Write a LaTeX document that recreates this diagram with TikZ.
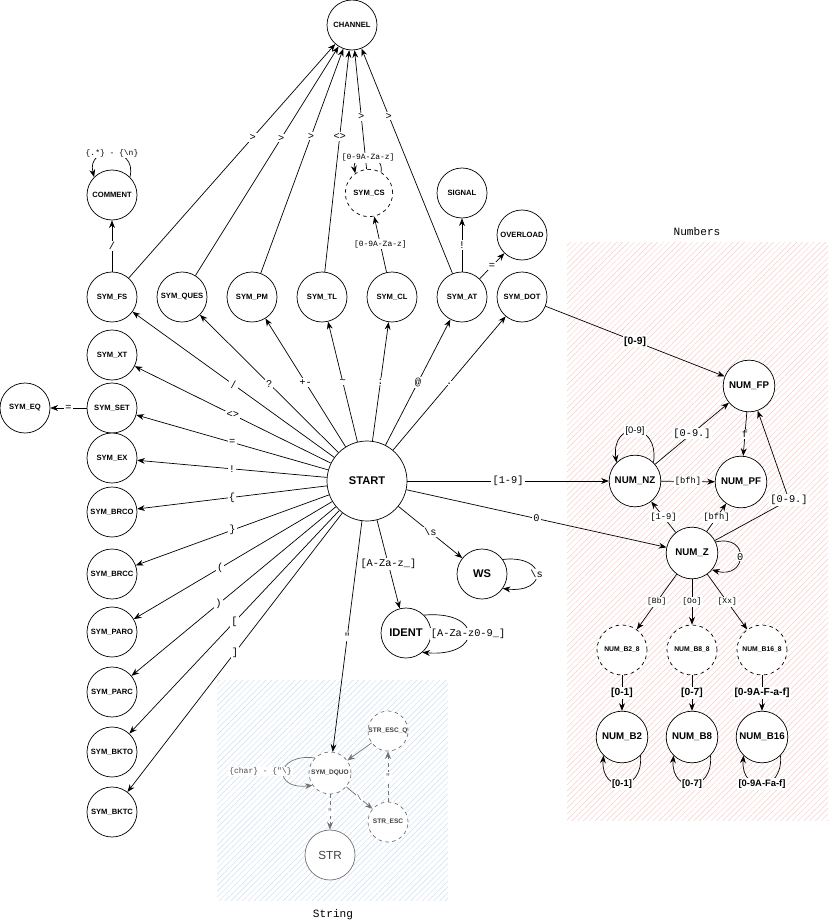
\documentclass[tikz,border=0pt]{standalone}
\usepackage{fontspec}
\setmainfont{Liberation Sans}
\newfontfamily\monofont{Liberation Mono}
\usetikzlibrary{arrows.meta,patterns.meta}
\definecolor{numhatch}{HTML}{F8CAC8}
\definecolor{strhatch}{HTML}{CCDDF2}

\begin{document}
\begin{tikzpicture}[x=.03cm,y=-.03cm,line width=.6pt,
  st/.style={draw,circle,fill=white,inner sep=0pt,minimum size=1.5cm,font=\bfseries\fontsize{6.5}{7}\selectfont},
  bigst/.style={st,font=\bfseries\fontsize{9.5}{11}\selectfont},
  numst/.style={st,minimum size=1.55cm,font=\bfseries\fontsize{8.3}{9}\selectfont},
  ghost/.style={st,dashed},
  faded/.style={draw=black!55,text=black!75},
  arr/.style={-{Stealth[length=6.5pt,width=5pt]}},
  lbl/.style={fill=white,inner sep=1pt,font=\monofont\fontsize{8.8}{9}\selectfont},
  mlbl/.style={lbl,font=\monofont\fontsize{7.5}{8}\selectfont},
  slbl/.style={lbl,font=\monofont\fontsize{6.8}{7}\selectfont},
  blbl/.style={lbl,font=\bfseries\fontsize{8.8}{9}\selectfont}]
 \useasboundingbox (0,0) rectangle (828,923);
 \fill[pattern={Lines[angle=45,distance=3.5pt,line width=.4pt]},pattern color=numhatch] (567,242) rectangle (828,820);
 \fill[pattern={Lines[angle=45,distance=3.5pt,line width=.4pt]},pattern color=strhatch] (217,680) rectangle (448,900);
 \node[font=\monofont\fontsize{9.5}{10}\selectfont] (numbers) at (697,232) {Numbers};
 \node[font=\monofont\fontsize{9.5}{10}\selectfont] (string) at (333,915) {String};

 \node[st] (channel) at (352,25) {CHANNEL};
 \node[st] (comment) at (112,195) {COMMENT};
 \node[ghost,minimum size=1.42cm] (symcs) at (369,193) {SYM\_CS};
 \node[st] (signal) at (462,193) {SIGNAL};
 \node[st] (overload) at (522,235) {OVERLOAD};
 \foreach \nm/\tx/\x in {symfs/FS/112,symques/QUES/182,sympm/PM/252,symtl/TL/322,symcl/CL/392,symat/AT/462,symdot/DOT/522}
   \node[st] (\nm) at (\x,297) {SYM\_\tx};
 \foreach \nm/\tx/\y in {symxt/XT/355,symset/SET/408,symex/EX/458,symbrco/BRCO/512,symbrcc/BRCC/574,symparo/PARO/632,symparc/PARC/692,symbkto/BKTO/752,symbktc/BKTC/812}
   \node[st] (\nm) at (112,\y) {SYM\_\tx};
 \node[st] (symeq) at (25,408) {SYM\_EQ};
 \node[bigst,minimum size=2.4cm] (start) at (367,481) {START};
 \node[bigst] (ws) at (482,574) {WS};
 \node[bigst] (ident) at (406,633) {IDENT};
 \node[numst] (numfp) at (749,386) {NUM\_FP};
 \node[numst] (numnz) at (635,481) {NUM\_NZ};
 \node[numst] (numpf) at (741,482) {NUM\_PF};
 \node[numst] (numz) at (692,553) {NUM\_Z};
 \foreach \nm/\tx/\x in {two/2/622,eight/8/692,sixteen/16/762}{
   \node[ghost,font=\bfseries\fontsize{5.8}{6}\selectfont] (pre\nm) at (\x,650) {NUM\_B\tx\_8};
   \node[numst] (num\nm) at (\x,737) {NUM\_B\tx};
 }
 \node[ghost,faded,minimum size=1.26cm,font=\bfseries\fontsize{5.6}{6}\selectfont] (symdquo) at (330,773) {SYM\_DQUO};
 \node[ghost,faded,minimum size=1.2cm,font=\bfseries\fontsize{5.6}{6}\selectfont] (strescq) at (388,731) {STR\_ESC\_Q};
 \node[ghost,faded,minimum size=1.2cm,font=\bfseries\fontsize{5.6}{6}\selectfont] (stresc) at (388,822) {STR\_ESC};
 \node[bigst,faded,font=\fontsize{10}{11}\selectfont] (str) at (330,855) {STR};

 \foreach \src/\p/\lab in {symfs/.6/>,symques/.6/>,sympm/.61/>,symtl/.61/<>,symcs/.44/>,symat/.7/>}
   \draw[arr] (\src) -- (channel) node[lbl,pos=\p] {\lab};
 \draw[arr] (symfs) -- node[lbl] {/} (comment);
 \draw[arr] (comment.45) .. controls +(8,-32) and +(-8,-32) .. (comment.135) node[slbl,pos=.5] {\{.*\} - \{\textbackslash n\}};
 \draw[arr] (symcs.60) .. controls +(4,-20) and +(-4,-20) .. (symcs.125) node[slbl,pos=.5] {[0-9A-Za-z]};
 \draw[arr] (symcl) -- node[slbl] {[0-9A-Za-z]} (symcs);
 \draw[arr] (symat) -- node[lbl] {!} (signal);
 \draw[arr] (symat) -- node[lbl] {=} (overload);
 \draw[arr] (symset) -- node[lbl] {=} (symeq);

 \draw[arr] (start) -- node[lbl] {/} (symfs);
 \foreach \dst/\lab in {symques/?,sympm/+-,symtl/\textasciitilde,symcl/:,symat/@,symdot/.}
   \draw[arr] (start) -- node[lbl] {\lab} (\dst);
 \foreach \dst/\p/\lab in {symxt/.5/<>,symset/.5/=,symex/.5/!,symbrco/.5/\{,symbrcc/.5/\},symparo/.565/(,symparc/.575/),symbkto/.5/[,symbktc/.5/]}
   \draw[arr] (start) -- (\dst) node[lbl,pos=\p] {\lab};
 \draw[arr] (start) -- node[lbl] {\textbackslash s} (ws);
 \draw[arr] (ws.35) .. controls +(45,-5) and +(45,5) .. (ws.-35) node[lbl,pos=.5] {\textbackslash s};
 \draw[arr] (start) -- node[lbl] {[A-Za-z\_]} (ident);
 \draw[arr] (ident.45) .. controls +(60,-5) and +(60,5) .. (ident.-50) node[lbl,pos=.5] {[A-Za-z0-9\_]};
 \draw[arr] (start) -- node[lbl] {[1-9]} (numnz);
 \draw[arr] (start) -- node[lbl] {0} (numz);
 \draw[arr] (start) -- node[lbl] {"} (symdquo);

 \draw[arr] (symdot) -- node[blbl] {[0-9]} (numfp);
 \draw[arr] (numnz.45) .. controls +(6,-42) and +(-6,-42) .. (numnz.135) node[pos=.5,fill=white,inner sep=1pt,font=\fontsize{8}{9}\selectfont] {[0-9]};
 \draw[arr] (numnz) -- node[lbl] {[0-9.]} (numfp);
 \draw[arr] (numnz) -- node[mlbl] {[bfh]} (numpf);
 \draw[arr] (numfp) -- node[lbl] {f} (numpf);
 \coordinate (fpbend) at (789,500);
 \draw[arr] (numz) -- (fpbend) node[lbl] {[0-9.]} -- (numfp);
 \draw[arr] (numz) -- node[mlbl] {[1-9]} (numnz);
 \draw[arr] (numz) -- node[mlbl] {[bfh]} (numpf);
 \draw[arr] (numz.25) .. controls +(35,-8) and +(35,10) .. (numz.-40) node[lbl,pos=.5] {0};
 \foreach \nm/\lab in {two/Bb,eight/Oo,sixteen/Xx}
   \draw[arr] (numz) -- node[slbl] {[\lab]} (pre\nm);
 \foreach \nm/\lab in {two/0-1,eight/0-7,sixteen/0-9A-F-a-f}
   \draw[arr] (pre\nm) -- node[blbl] {[\lab]} (num\nm);
 \foreach \nm/\lab in {two/0-1,eight/0-7,sixteen/0-9A-Fa-f}
   \draw[arr] (num\nm.-45) .. controls +(3,38) and +(-3,38) .. (num\nm.-135) node[blbl,pos=.5,font=\bfseries\fontsize{8}{9}\selectfont] {[\lab]};

 \draw[arr,draw=black!55] (symdquo.135) .. controls +(-40,-5) and +(-40,5) .. (symdquo.-145) node[slbl,pos=.5,left=-8pt,text=black!70] {\{char\} - \{"\textbackslash\}};
 \draw[arr,draw=black!55,dashed] (symdquo) -- node[slbl,text=black!70] {"} (str);
 \draw[arr,draw=black!55] (symdquo) -- node[slbl,text=black!70] {\textbackslash} (stresc);
 \draw[arr,draw=black!55,dashed] (stresc) -- node[slbl,text=black!70] {"} (strescq);
 \draw[arr,draw=black!55] (strescq) -- (symdquo);
\end{tikzpicture}
\end{document}
